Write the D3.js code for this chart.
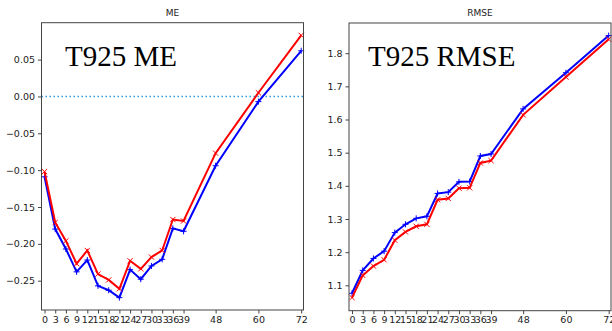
<!DOCTYPE html>
<html>
<head>
<meta charset="utf-8">
<script src="https://cdn.jsdelivr.net/npm/d3@7"></script>
<style>
  body { margin: 0; background: #fff; }
  svg { display: block; }
</style>
</head>
<body>
<div id="chart"></div>
<script>
// lead times (hours)
const leadTimes = [0, 3, 6, 9, 12, 15, 18, 21, 24, 27, 30, 33, 36, 39, 48, 60, 72];

// mean error
const meRed = [-0.102, -0.171, -0.196, -0.227, -0.209, -0.241, -0.249, -0.261, -0.223, -0.234, -0.218, -0.209, -0.167, -0.169, -0.077, 0.005, 0.083];
const meBlue = [-0.109, -0.180, -0.207, -0.238, -0.222, -0.257, -0.263, -0.273, -0.235, -0.248, -0.230, -0.221, -0.179, -0.183, -0.094, -0.007, 0.062];

// root mean square error
const rmseRed = [1.063, 1.130, 1.158, 1.177, 1.236, 1.261, 1.278, 1.284, 1.358, 1.362, 1.393, 1.394, 1.469, 1.476, 1.614, 1.728, 1.842];
const rmseBlue = [1.076, 1.145, 1.181, 1.203, 1.259, 1.284, 1.302, 1.308, 1.377, 1.381, 1.412, 1.413, 1.490, 1.496, 1.632, 1.741, 1.853];

const meTicks = [-0.25, -0.20, -0.15, -0.10, -0.05, 0.00, 0.05];
const rmseTicks = [1.1, 1.2, 1.3, 1.4, 1.5, 1.6, 1.7, 1.8];

const svg = d3.select('#chart')
  .append('svg')
    .attr('width', 612)
    .attr('height', 331);

function drawPanel(opts) {
  const x = d3.scaleLinear()
    .domain([-0.85, 72.65])
    .range([opts.left, opts.right]);
  const y = d3.scaleLinear()
    .domain(opts.yDomain)
    .range([opts.bottom, opts.top]);

  const g = svg.append('g');

  // zero line
  if (opts.zeroLine) {
    g.append('line')
      .attr('x1', opts.left).attr('x2', opts.right)
      .attr('y1', y(0)).attr('y2', y(0))
      .attr('stroke', '#2a8fd4')
      .attr('stroke-width', 1.4)
      .attr('stroke-dasharray', '1.4,2.6');
  }

  const line = d3.line()
    .x((d, i) => x(leadTimes[i]))
    .y(d => y(d));

  // blue series with + markers
  g.append('path')
    .datum(opts.blue)
    .attr('fill', 'none')
    .attr('stroke', '#0000ff')
    .attr('stroke-width', 2)
    .attr('d', line);
  g.selectAll('.plus')
    .data(opts.blue)
    .enter()
    .append('path')
      .attr('class', 'plus')
      .attr('d', (d, i) => {
        const cx = x(leadTimes[i]), cy = y(d), r = 3;
        return 'M' + (cx - r) + ',' + cy + 'H' + (cx + r) + 'M' + cx + ',' + (cy - r) + 'V' + (cy + r);
      })
      .attr('stroke', '#0000ff')
      .attr('stroke-width', 1);

  // red series with x markers
  g.append('path')
    .datum(opts.red)
    .attr('fill', 'none')
    .attr('stroke', '#ff0000')
    .attr('stroke-width', 2)
    .attr('d', line);
  g.selectAll('.cross')
    .data(opts.red)
    .enter()
    .append('path')
      .attr('class', 'cross')
      .attr('d', (d, i) => {
        const cx = x(leadTimes[i]), cy = y(d), r = 2.6;
        return 'M' + (cx - r) + ',' + (cy - r) + 'L' + (cx + r) + ',' + (cy + r) +
          'M' + (cx - r) + ',' + (cy + r) + 'L' + (cx + r) + ',' + (cy - r);
      })
      .attr('stroke', '#ff0000')
      .attr('stroke-width', 1);

  // frame
  g.append('rect')
    .attr('x', opts.left).attr('y', opts.top)
    .attr('width', opts.right - opts.left)
    .attr('height', opts.bottom - opts.top)
    .attr('fill', 'none')
    .attr('stroke', '#444')
    .attr('stroke-width', 1);

  // X axis
  const xAxis = g.append('g')
    .attr('transform', 'translate(0,' + opts.bottom + ')')
    .call(d3.axisBottom(x).tickValues(leadTimes).tickFormat(d3.format('d')).tickSize(3.5).tickPadding(2.5));

  // Y axis
  const yAxis = g.append('g')
    .attr('transform', 'translate(' + opts.left + ',0)')
    .call(d3.axisLeft(y).tickValues(opts.yTicks).tickFormat(opts.yFormat).tickSize(3.5).tickPadding(3));

  [xAxis, yAxis].forEach(a => {
    a.select('.domain').remove();
    a.selectAll('line').attr('stroke', '#444');
    a.selectAll('text')
      .attr('fill', '#222')
      .style('font-family', 'DejaVu Sans')
      .style('font-size', '9.5px');
  });

  // title
  g.append('text')
    .attr('x', (opts.left + opts.right) / 2)
    .attr('y', 16)
    .attr('text-anchor', 'middle')
    .attr('fill', '#222')
    .style('font-family', 'DejaVu Sans')
    .style('font-size', '9px')
    .text(opts.title);

  // big label
  g.append('text')
    .attr('x', opts.labelX)
    .attr('y', 66)
    .attr('fill', '#000')
    .style('font-family', 'Liberation Serif')
    .style('font-size', '29px')
    .text(opts.label);
}

drawPanel({
  left: 41.5, right: 303.5, top: 22.7, bottom: 310,
  yDomain: [-0.2898, 0.1001],
  yTicks: meTicks,
  yFormat: d => d3.format('.2f')(d).replace('-', '\u2212'),
  red: meRed, blue: meBlue,
  zeroLine: true,
  title: 'ME', label: 'T925 ME', labelX: 65
});

drawPanel({
  left: 349, right: 611, top: 23, bottom: 310.7,
  yDomain: [1.0235, 1.891],
  yTicks: rmseTicks,
  yFormat: d3.format('.1f'),
  red: rmseRed, blue: rmseBlue,
  zeroLine: false,
  title: 'RMSE', label: 'T925 RMSE', labelX: 368
});
</script>
</body>
</html>
